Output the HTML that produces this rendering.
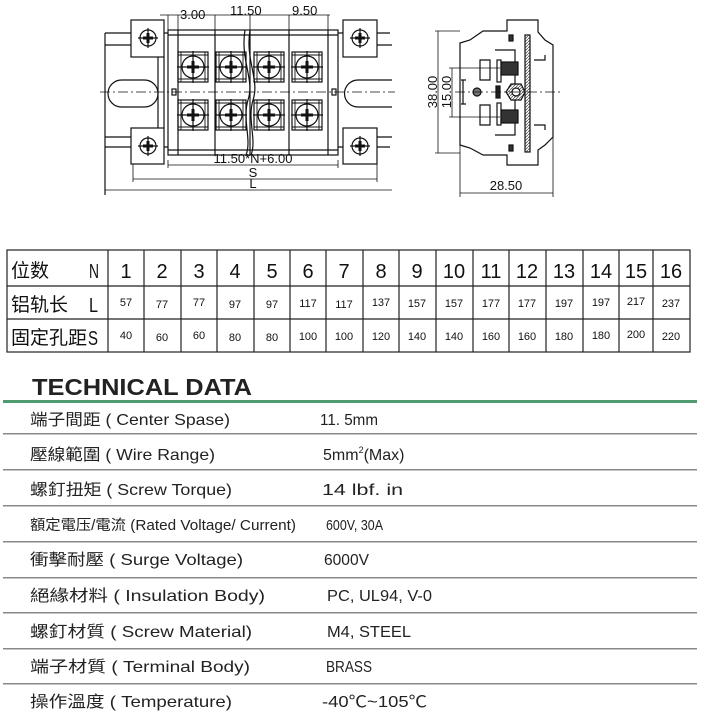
<!DOCTYPE html>
<html><head><meta charset="utf-8"><style>
html,body{margin:0;padding:0;background:#fff}
body{width:720px;height:713px;overflow:hidden}
svg{display:block}
.n{font-family:"Liberation Sans",sans-serif}
</style></head><body>
<svg width="720" height="713" viewBox="0 0 720 713" xmlns="http://www.w3.org/2000/svg">
<defs>
<pattern id="h" width="3" height="3" patternUnits="userSpaceOnUse"><rect width="3" height="3" fill="#fff"/><path d="M0 3L3 0" stroke="#555" stroke-width="0.8"/></pattern>
<g id="scr">
<rect x="-15" y="-15" width="30" height="30" fill="none" stroke="#111" stroke-width="1.2"/>
<path d="M-15 -12H15M-15 12H15M-12 -15V15M12 -15V15" stroke="#111" stroke-width="0.9"/>
<circle r="11" fill="#fff" stroke="#111" stroke-width="1.2"/>
<path d="M-16 0H16M0 -16V16" stroke="#111" stroke-width="1.2"/>
<path d="M-6 -1.5H6V1.5H-6ZM-1.5 -6H1.5V6H-1.5Z" fill="#111"/>
</g>
<g id="mnt">
<circle r="8" fill="#fff" stroke="#111" stroke-width="1.2"/>
<path d="M-10 0H10M0 -10V10" stroke="#111" stroke-width="1.2"/>
<path d="M-5 -1.5H5V1.5H-5ZM-1.5 -5H1.5V5H-1.5Z" fill="#111"/>
</g>
</defs>
<g stroke="#111" fill="none" stroke-width="1.2">
<path d="M105 33H390M105 147H390M105 33V195M131 45H105M131 137H105M377 45H392M377 137H392"/>
<rect x="108" y="80" width="50" height="27" rx="13.5"/>
<path d="M392 80H358A13.5 13.5 0 0 0 358 107H392"/>
<path d="M158 55V130M164 57V128"/>
<rect x="131" y="20" width="33" height="37" fill="#fff"/>
<rect x="131" y="128" width="33" height="36" fill="#fff"/>
<rect x="343" y="20" width="34" height="37" fill="#fff"/>
<rect x="343" y="128" width="34" height="36" fill="#fff"/>
<rect x="168" y="30" width="170" height="125" fill="#fff"/>
<path d="M178 30V155M328 30V155M215 30V155M250 30V155M289 30V155M168 150H338M168 35H338"/>
<path d="M245 30C240 60 255 80 248 100C242 120 252 140 246 155M250 30C245 60 260 80 253 100C247 120 257 140 251 155"/>
<rect x="172" y="89" width="4" height="6"/><rect x="332" y="89" width="4" height="6"/>
<path d="M100 92H395" stroke-dasharray="10 3 2 3" stroke-width="0.8"/>
<path d="M168 15V30M178 15V30M215 15V30M250 15V30M289 15V30M328 15V30M160 15H330" stroke-width="0.8"/>
<path d="M168 160V168M338 160V168M168 165H338M133 164V182M377 164V182M133 179H377M105 190H392" stroke-width="0.8"/>
</g>
<g class="n" font-size="13" fill="#111">
<text x="180" y="19">3.00</text>
<text x="230" y="15">11.50</text>
<text x="292" y="15">9.50</text>
<text x="253" y="163" text-anchor="middle">11.50*N+6.00</text>
<text x="253" y="177" text-anchor="middle">S</text>
<text x="253" y="188" text-anchor="middle">L</text>
</g>
<use href="#scr" x="193" y="67"/><use href="#scr" x="231" y="67"/><use href="#scr" x="269" y="67"/><use href="#scr" x="307" y="67"/>
<use href="#scr" x="193" y="115"/><use href="#scr" x="231" y="115"/><use href="#scr" x="269" y="115"/><use href="#scr" x="307" y="115"/>
<use href="#mnt" x="148" y="38"/><use href="#mnt" x="148" y="146"/><use href="#mnt" x="360" y="38"/><use href="#mnt" x="360" y="146"/>

<g stroke="#111" fill="none" stroke-width="1.2">
<path d="M460 43L470 40L483 31L507 31V20H538V32L545 40L553 45V137L545 145L538 150V165H507V155H483L470 148L460 145Z" fill="#fff"/>
<path d="M495 50H515V85M495 135H515V100"/>
<rect x="497" y="60" width="4" height="22"/><rect x="497" y="103" width="4" height="22"/>
<path d="M480 60H490V80H480ZM480 105H490V125H480Z"/>
<rect x="525" y="35" width="5" height="117" fill="url(#h)"/>
<rect x="501" y="62" width="17" height="13" fill="#333"/>
<rect x="501" y="110" width="17" height="13" fill="#333"/>
<polygon points="506,92 511,84 521,84 525,92 521,100 511,100" fill="url(#h)"/>
<circle cx="516" cy="92" r="4" fill="#fff"/>
<rect x="496" y="86" width="4" height="12" fill="#222"/>
<circle cx="477" cy="92" r="4" fill="#777"/>
<path d="M463 80V104M461 80H466M461 104H466"/>
<path d="M534 60H545V55M534 125H545V130"/>
<rect x="509" y="35" width="4" height="6" fill="#333"/><rect x="509" y="145" width="4" height="6" fill="#333"/>
<path d="M455 92H560" stroke-dasharray="10 3 2 3" stroke-width="0.8"/>
<path d="M435 31H460M435 153H460M438 31V153M449 68H500M449 117H500M452 68V117" stroke-width="0.8"/>
<path d="M460 145V197M553 137V197M460 193H553" stroke-width="0.8"/>
</g>
<g class="n" font-size="13" fill="#111">
<text transform="translate(437 92) rotate(-90)" text-anchor="middle">38.00</text>
<text transform="translate(451 92) rotate(-90)" text-anchor="middle">15.00</text>
<text x="506" y="190" text-anchor="middle">28.50</text>
</g>

<g stroke="#222" stroke-width="1.2" fill="none">
<rect x="7" y="250" width="683" height="102"/>
<path d="M7 286H690M7 319H690"/>
<path d="M108 250V352M144 250V352M181 250V352M217 250V352M254 250V352M290 250V352M326 250V352M363 250V352M399 250V352M436 250V352M473 250V352M509 250V352M546 250V352M583 250V352M619 250V352M653 250V352"/>
</g>
<g fill="#111" font-family="'Noto Sans CJK TC',sans-serif" font-size="19">
<text x="11" y="277">位数</text>
<text x="11" y="311">铝轨长</text>
<text x="11" y="344">固定孔距</text>
</g>
<g fill="#111" class="n" font-size="20">
<text x="89" y="278" textLength="10" lengthAdjust="spacingAndGlyphs">N</text>
<text x="89" y="312" textLength="9" lengthAdjust="spacingAndGlyphs">L</text>
<text x="88" y="345" textLength="10" lengthAdjust="spacingAndGlyphs">S</text>
</g>
<g class="n" fill="#111" text-anchor="middle">
<g font-size="20">
<text x="126" y="278">1</text><text x="162" y="278">2</text><text x="199" y="278">3</text><text x="235" y="278">4</text><text x="272" y="278">5</text><text x="308" y="278">6</text><text x="344" y="278">7</text><text x="381" y="278">8</text><text x="417" y="278">9</text><text x="454" y="278">10</text><text x="491" y="278">11</text><text x="527" y="278">12</text><text x="564" y="278">13</text><text x="601" y="278">14</text><text x="636" y="278">15</text><text x="671" y="278">16</text>
</g>
<g font-size="11">
<text x="126" y="306">57</text><text x="162" y="308">77</text><text x="199" y="306">77</text><text x="235" y="308">97</text><text x="272" y="308">97</text><text x="308" y="307">117</text><text x="344" y="308">117</text><text x="381" y="306">137</text><text x="417" y="307">157</text><text x="454" y="307">157</text><text x="491" y="307">177</text><text x="527" y="307">177</text><text x="564" y="307">197</text><text x="601" y="306">197</text><text x="636" y="305">217</text><text x="671" y="307">237</text>
<text x="126" y="339">40</text><text x="162" y="341">60</text><text x="199" y="339">60</text><text x="235" y="341">80</text><text x="272" y="341">80</text><text x="308" y="340">100</text><text x="344" y="340">100</text><text x="381" y="340">120</text><text x="417" y="340">140</text><text x="454" y="340">140</text><text x="491" y="340">160</text><text x="527" y="340">160</text><text x="564" y="340">180</text><text x="601" y="339">180</text><text x="636" y="338">200</text><text x="671" y="340">220</text>
</g>
</g>

<text x="32" y="395" font-family="'Liberation Sans',sans-serif" font-weight="bold" font-size="23" fill="#222" textLength="220" lengthAdjust="spacingAndGlyphs">TECHNICAL DATA</text>
<rect x="3" y="400" width="694" height="3" fill="#4f9a6e"/>
<g fill="#888">
<rect x="3" y="433" width="694" height="1.5"/><rect x="3" y="469" width="694" height="1.5"/><rect x="3" y="505" width="694" height="1.5"/><rect x="3" y="541" width="694" height="1.5"/><rect x="3" y="577" width="694" height="1.5"/><rect x="3" y="612" width="694" height="1.5"/><rect x="3" y="648" width="694" height="1.5"/><rect x="3" y="683" width="694" height="1.5"/>
</g>
<g font-family="'Liberation Sans','Noto Sans CJK TC',sans-serif" font-size="16" fill="#222">
<text x="30" y="425" textLength="200" lengthAdjust="spacingAndGlyphs">端子間距 ( Center Spase)</text>
<text x="30" y="460" textLength="185" lengthAdjust="spacingAndGlyphs">壓線範圍 ( Wire Range)</text>
<text x="30" y="495" textLength="202" lengthAdjust="spacingAndGlyphs">螺釘扭矩 ( Screw Torque)</text>
<text x="30" y="530" font-size="14.5" textLength="266" lengthAdjust="spacingAndGlyphs">額定電压/電流 (Rated Voltage/ Current)</text>
<text x="30" y="565" textLength="213" lengthAdjust="spacingAndGlyphs">衝擊耐壓 ( Surge Voltage)</text>
<text x="30" y="601" textLength="235" lengthAdjust="spacingAndGlyphs">絕緣材料 ( Insulation Body)</text>
<text x="30" y="637" textLength="222" lengthAdjust="spacingAndGlyphs">螺釘材質 ( Screw Material)</text>
<text x="30" y="672" textLength="220" lengthAdjust="spacingAndGlyphs">端子材質 ( Terminal Body)</text>
<text x="30" y="707" textLength="202" lengthAdjust="spacingAndGlyphs">操作溫度 ( Temperature)</text>
<text x="320" y="425" textLength="58" lengthAdjust="spacingAndGlyphs">11. 5mm</text>
<text x="323" y="460">5mm<tspan font-size="9" dy="-7">2</tspan><tspan dy="7">(Max)</tspan></text>
<text x="322" y="495" textLength="81" lengthAdjust="spacingAndGlyphs">14 lbf. in</text>
<text x="326" y="530" font-size="15" textLength="57" lengthAdjust="spacingAndGlyphs">600V, 30A</text>
<text x="324" y="565" textLength="45" lengthAdjust="spacingAndGlyphs">6000V</text>
<text x="327" y="601" textLength="105" lengthAdjust="spacingAndGlyphs">PC, UL94, V-0</text>
<text x="327" y="637" textLength="84" lengthAdjust="spacingAndGlyphs">M4, STEEL</text>
<text x="326" y="672" textLength="46" lengthAdjust="spacingAndGlyphs">BRASS</text>
<text x="322" y="707" textLength="105" lengthAdjust="spacingAndGlyphs">-40℃~105℃</text>
</g>
</svg>
</body></html>
